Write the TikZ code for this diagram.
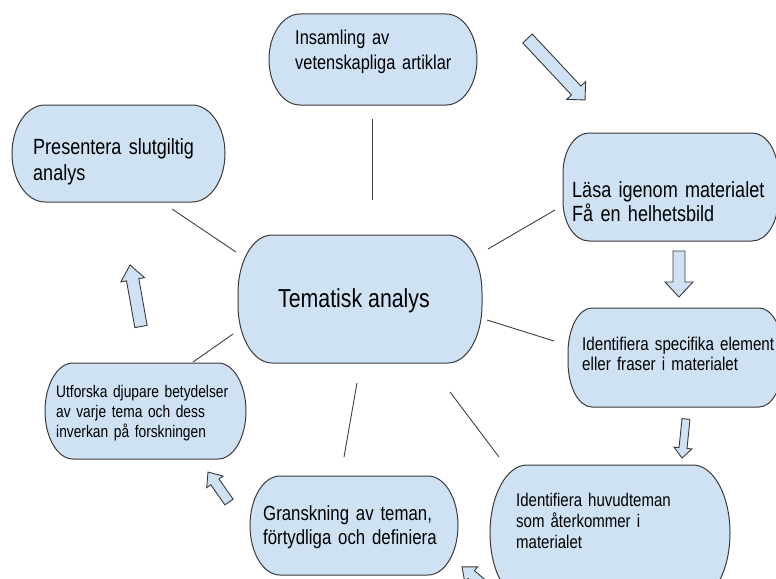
\documentclass[tikz,border=0pt]{standalone}
\usepackage{fontspec}
\setmainfont{Liberation Sans}[FakeStretch=0.82]
\definecolor{stepblue}{HTML}{CFE2F3}
\definecolor{stepedge}{HTML}{3A3A3A}
\definecolor{linkgray}{HTML}{404040}
\tikzstyle{stepline}=[draw=stepedge, fill=stepblue, line width=1pt]
\tikzstyle{stepbox}=[inner sep=0pt, outer sep=0pt, anchor=north west]
\tikzstyle{steptext}=[anchor=base west, align=left, text width=240pt, inner sep=0pt]
\tikzstyle{link}=[draw=linkgray, line width=0.9pt]
\tikzstyle{flowline}=[draw=stepedge, fill=stepblue, line width=0.9pt, line join=miter]
\newcommand{\fs}[2]{\fontsize{#1}{#2}\selectfont}
\newcommand{\drawstep}[7]{

\pgfmathsetmacro{\xa}{#2}
\pgfmathsetmacro{\ya}{#3}
\pgfmathsetmacro{\xb}{#2+#4}
\pgfmathsetmacro{\yb}{#3+#5}
\pgfmathsetmacro{\rx}{#6}
\pgfmathsetmacro{\ry}{#7}
\pgfmathsetmacro{\cx}{0.4477*#6}
\pgfmathsetmacro{\cy}{0.4477*#7}
\path[stepline] (\xa+\rx,\ya) -- (\xb-\rx,\ya)
  .. controls (\xb-\cx,\ya) and (\xb,\ya+\cy) .. (\xb,\ya+\ry)
  -- (\xb,\yb-\ry)
  .. controls (\xb,\yb-\cy) and (\xb-\cx,\yb) .. (\xb-\rx,\yb)
  -- (\xa+\rx,\yb)
  .. controls (\xa+\cx,\yb) and (\xa,\yb-\cy) .. (\xa,\yb-\ry)
  -- (\xa,\ya+\ry)
  .. controls (\xa,\ya+\cy) and (\xa+\cx,\ya) .. cycle;
\node[stepbox, minimum width=#4pt, minimum height=#5pt] (#1) at (\xa,\ya) {};
}
\newcommand{\drawflow}[7]{
\pgfmathsetmacro{\shaft}{#5/2}
\pgfmathsetmacro{\headw}{#6/2}
\pgfmathsetmacro{\neck}{#4-#7}
\begin{scope}[shift={(#1,#2)}, rotate=#3]
\path[flowline] (0,-\shaft) -- (\neck,-\shaft) -- (\neck,-\headw) -- (#4,0)
  -- (\neck,\headw) -- (\neck,\shaft) -- (0,\shaft) -- cycle;
\end{scope}
}
\begin{document}
\begin{tikzpicture}[x=1pt, y=-1pt]
	\useasboundingbox (0,0) rectangle (776,578);
	\clip (0,0) rectangle (776,578);
	% boxes
	\drawstep{ins}{269}{14}{208}{91}{31}{45.5}
	\drawstep{pres}{12}{105}{213}{97}{33}{48.5}
	\drawstep{las}{563}{133}{215}{108}{26}{40}
	\drawstep{tem}{238}{235}{244}{128}{34}{58}
	\drawstep{spec}{568}{308}{215}{99}{24}{45}
	\drawstep{utf}{45}{363}{201}{96}{28}{48}
	\drawstep{gran}{250}{476}{208}{99}{30}{49.5}
	\drawstep{huv}{490}{465}{240}{136}{37}{68}
	% texts
	\node[steptext, font=\fs{20}{25}] (ins-t) at ([xshift=26pt,yshift=-31pt]ins.north west) {Insamling av\\vetenskapliga artiklar};
	\node[steptext, font=\fs{22}{26}] (pres-t) at ([xshift=21pt,yshift=-49pt]pres.north west) {Presentera slutgiltig\\analys};
	\node[steptext, font=\fs{22}{24}] (las-t) at ([xshift=9pt,yshift=-64pt]las.north west) {Läsa igenom materialet\\Få en helhetsbild};
	\node[anchor=base, inner sep=0pt, font=\fs{26}{30}] (tem-t) at ([xshift=-6pt,yshift=-8pt]tem.center) {Tematisk analys};
	\node[steptext, font=\fs{18.5}{20}] (spec-t) at ([xshift=14pt,yshift=-42pt]spec.north west) {Identifiera specifika element\\eller fraser i materialet};
	\node[steptext, font=\fs{16.8}{20}] (utf-t) at ([xshift=11pt,yshift=-34pt]utf.north west) {Utforska djupare betydelser\\av varje tema och dess\\inverkan på forskningen};
	\node[steptext, font=\fs{20.5}{24}] (gran-t) at ([xshift=13pt,yshift=-44pt]gran.north west) {Granskning av teman,\\förtydliga och definiera};
	\node[steptext, font=\fs{18.3}{21}] (huv-t) at ([xshift=26pt,yshift=-41pt]huv.north west) {Identifiera huvudteman\\som återkommer i\\materialet};
	% links to the centre
	\draw[link] ([xshift=-1pt,yshift=-14pt]ins.south) -- ([xshift=12pt,yshift=35pt]tem.north);
	\draw[link] ([xshift=53.5pt,yshift=-7pt]pres.south) -- ([xshift=-2pt,yshift=47pt]tem.west);
	\draw[link] ([xshift=-8pt,yshift=-23pt]las.west) -- ([xshift=6pt,yshift=50pt]tem.east);
	\draw[link] ([xshift=5pt,yshift=-21pt]tem.east) -- ([xshift=-14pt,yshift=16.5pt]spec.west);
	\draw[link] ([xshift=90pt,yshift=-29pt]tem.south) -- ([xshift=9pt,yshift=8pt]huv.north west);
	\draw[link] ([xshift=-3pt,yshift=-20pt]tem.south) -- ([xshift=-10pt,yshift=19pt]gran.north);
	\draw[link] ([xshift=-5pt,yshift=-35pt]tem.west) -- ([xshift=-53pt,yshift=1pt]utf.north east);
	% flow arrows
	\drawflow{527.5}{38.5}{-46.9}{84.2}{13}{26}{13}
	\drawflow{679}{251}{-90}{46}{12}{28}{15}
	\drawflow{686}{419}{-95.9}{39.2}{8}{18}{10}
	\drawflow{489.6}{590}{140}{36}{10}{20}{12}
	\drawflow{229}{502}{125}{36.6}{10}{20}{12}
	\drawflow{141}{326.5}{100.1}{62.5}{12.5}{24}{15}
\end{tikzpicture}
\end{document}
